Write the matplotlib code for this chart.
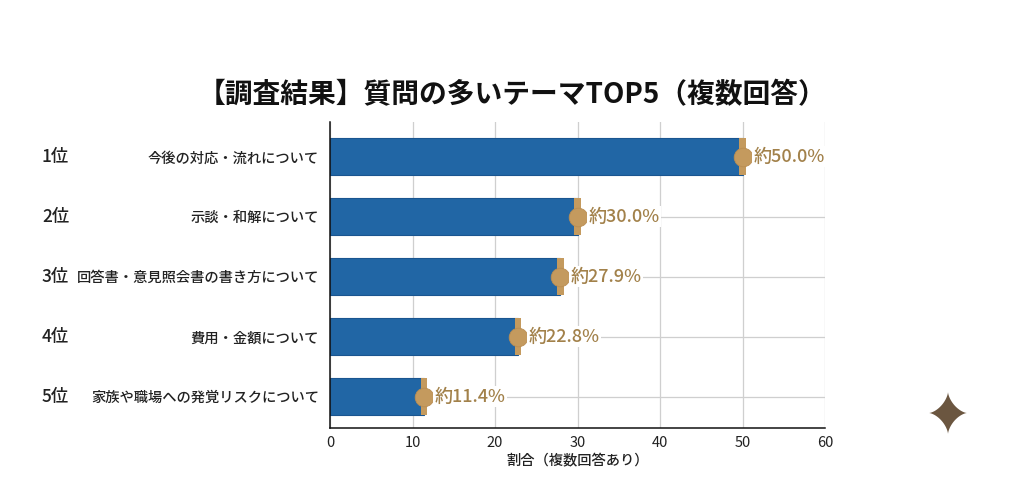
import numpy as np
import matplotlib.pyplot as plt
from matplotlib.patches import Polygon
from matplotlib.transforms import blended_transform_factory

plt.rcParams['font.family'] = ['Noto Sans CJK JP', 'DejaVu Sans']

ranks = ["1位", "2位", "3位", "4位", "5位"]
topics = [
    "今後の対応・流れについて",
    "示談・和解について",
    "回答書・意見照会書の書き方について",
    "費用・金額について",
    "家族や職場への発覚リスクについて",
]
shares = [50.0, 30.0, 27.9, 22.8, 11.4]
value_labels = ["約50.0%", "約30.0%", "約27.9%", "約22.8%", "約11.4%"]
x_ticks = [0, 10, 20, 30, 40, 50, 60]

bar_color = "#2166a5"
gold = "#c49a5e"
gold_text = "#a2814a"
ink = "#222222"

fig = plt.figure(figsize=(10.24, 4.91), dpi=100)
ax = fig.add_axes([0.3223, 0.1283, 0.4834, 0.6232])

y = np.arange(len(topics))
ax.barh(y, shares, height=0.62, color=bar_color, edgecolor="#1a5590",
        linewidth=0.8, zorder=2)

# gold cap at the end of each bar
ax.barh(y, [0.8] * len(shares), left=[v - 0.4 for v in shares], height=0.62,
        color=gold, linewidth=0, zorder=3)
ax.scatter(shares, y, s=180, color=gold, edgecolor="#b98d52", linewidth=0.6,
           zorder=4)

for yi, v, lab in zip(y, shares, value_labels):
    ax.text(v + 1.3, yi, lab, va="center", ha="left", fontsize=13,
            fontweight="medium", color=gold_text, zorder=5,
            bbox=dict(facecolor="white", edgecolor="none", pad=1.0))

ax.set_xlim(0, 60)
ax.set_ylim(4.52, -0.58)
ax.set_xticks(x_ticks)
ax.set_xticklabels([str(t) for t in x_ticks], fontsize=10.5, color=ink)
ax.set_yticks(y)
ax.set_yticklabels(topics, fontsize=10.3, fontweight="medium", color=ink)
ax.tick_params(axis="y", length=0, pad=8)
ax.tick_params(axis="x", length=0, pad=6)
ax.set_xlabel("割合（複数回答あり）", fontsize=10.3, fontweight="medium",
              color=ink, labelpad=3)

ax.grid(True, color="#cfcfcf", linewidth=0.9, zorder=0)
ax.set_axisbelow(True)
for side in ["top", "right"]:
    ax.spines[side].set_visible(False)
for side in ["left", "bottom"]:
    ax.spines[side].set_linewidth(1.1)
    ax.spines[side].set_color("#111111")

trans = blended_transform_factory(ax.transAxes, ax.transData)
for yi, r in zip(y, ranks):
    ax.text(-0.582, yi, r, transform=trans, ha="left", va="center",
            fontsize=12.5, fontweight="medium", color=ink)

fig.text(0.500, 0.806, "【調査結果】質問の多いテーマTOP5（複数回答）",
         ha="center", va="center", fontsize=20, fontweight="bold", color="#111111")

# decorative sparkle, bottom right
t = np.linspace(0, 2 * np.pi, 200)
cx, cy = 948, 491 - 413
sx = cx + 19 * np.cos(t) ** 3
sy = cy + 21 * np.sin(t) ** 3
star = Polygon(np.column_stack([sx / 1024, sy / 491]), closed=True,
               transform=fig.transFigure, facecolor="#6b5640", edgecolor="none")
fig.patches.append(star)

fig.savefig("out.png", dpi=100, facecolor="white")
